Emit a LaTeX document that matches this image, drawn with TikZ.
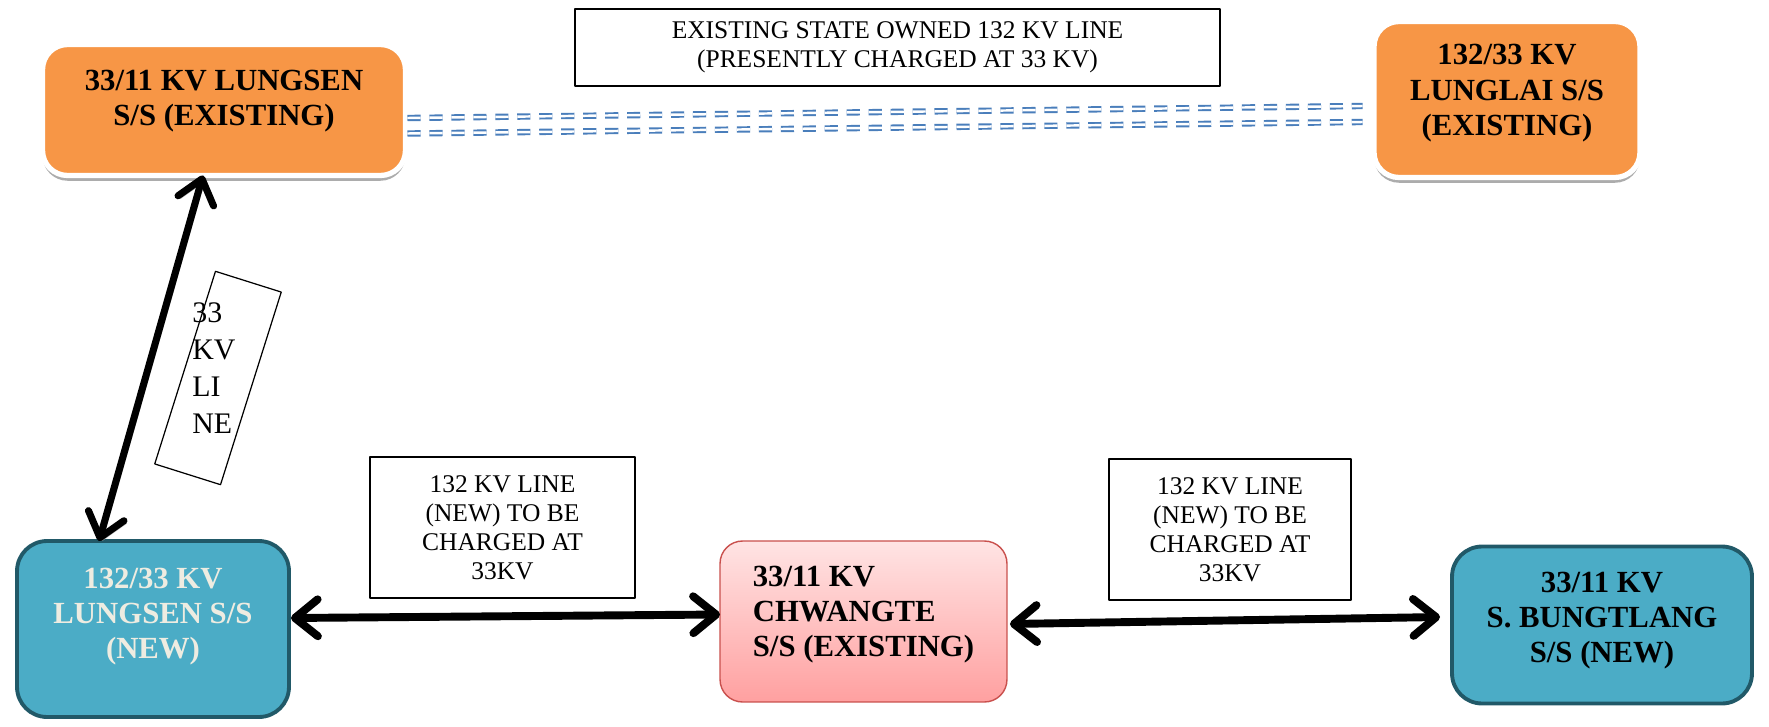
\documentclass[tikz,border=0pt]{standalone}
\usepackage{fontspec}
\setmainfont{Liberation Serif}
\usetikzlibrary{arrows.meta,calc,shadows}
\definecolor{orangess}{HTML}{F79646}
\definecolor{bluess}{HTML}{4BACC6}
\definecolor{blueedge}{HTML}{215968}
\definecolor{creamtext}{HTML}{EEECE1}
\definecolor{pinktop}{HTML}{FFE4E4}
\definecolor{pinkbottom}{HTML}{FFA0A0}
\definecolor{pinkedge}{HTML}{C9504D}
\definecolor{oldblue}{HTML}{4A7EBB}
\begin{document}
\begin{tikzpicture}[x=0.02cm,y=-0.02cm,line join=round,
	>={Straight Barb[length=13pt,width=21pt,round]},
	ss/.style={rounded corners=0.5cm,align=center,inner sep=0pt,outer sep=0pt,font=\fontsize{17.5}{20}\selectfont\bfseries},
	oldss/.style={ss,fill=orangess,draw=white,line width=3pt,drop shadow={opacity=1,fill=gray!65,shadow xshift=0pt,shadow yshift=-3pt}},
	newss/.style={ss,rounded corners=0.6cm,fill=bluess,draw=blueedge,line width=2.2pt},
	tag/.style={draw,line width=0.7pt,align=center,inner sep=0pt,font=\fontsize{14.5}{16.5}\selectfont},
	link/.style={<->,line width=4.5pt,line cap=round,preaction={draw=gray!60,transform canvas={xshift=1.5pt,yshift=-1.5pt}}},
	oldline/.style={draw=oldblue,line width=1.1pt,double=white,double distance=1.4pt,dash pattern=on 7.5pt off 5pt}]
	\useasboundingbox (0,0) rectangle (1769,727);
	% existing substations
	\node[oldss,minimum width=7.26cm,minimum height=2.62cm,text depth=13.5pt] (lungsenold) at (224,110) {33/11 KV LUNGSEN\\S/S (EXISTING)};
	\node[oldss,minimum width=5.32cm,minimum height=3.12cm,text depth=11pt] (lunglai) at (1507,99.5) {132/33 KV\\LUNGLAI S/S\\(EXISTING)};
	\node[tag,minimum width=12.9cm,minimum height=1.54cm] (oldtag) at (897.5,47.5) {EXISTING STATE OWNED 132 KV LINE\\(PRESENTLY CHARGED AT 33 KV)};
	\foreach \a/\b in {8/6.5,23.5/22.5}
	\draw[oldline] ($(lungsenold.east)+(2,\a)$)--($(lunglai.west)+(-11.5,\b)$);
	% new substations
	\node[newss,text=creamtext,minimum width=5.44cm,minimum height=3.52cm,text depth=18pt] (lungsennew) at (153,629) {132/33 KV\\LUNGSEN S/S\\(NEW)};
	\node[ss,rounded corners=0.45cm,align=left,top color=pinktop,bottom color=pinkbottom,draw=pinkedge,line width=0.8pt,minimum width=5.74cm,minimum height=3.22cm,text depth=12pt] (chwangte) at (863.5,621.5) {33/11 KV\\CHWANGTE\\S/S (EXISTING)};
	\node[newss,minimum width=6.0cm,minimum height=3.14cm,text depth=9pt] (bungtlang) at (1602,625) {33/11 KV\\S. BUNGTLANG\\S/S (NEW)};
	% line labels
	\node[draw,line width=0.7pt,rotate=-17.5,minimum width=1.38cm,minimum height=4.04cm] (linebox) at (218,378) {};
	\node[align=left,inner sep=0pt,font=\fontsize{17}{21}\selectfont] (linetxt) at (214,368) {33\\KV\\LI\\NE};
	\node[tag,minimum width=5.3cm,minimum height=2.82cm] (newtag) at (502.5,527.5) {132 KV LINE\\(NEW) TO BE\\CHARGED AT\\33KV};
	\node[tag,minimum width=4.84cm,minimum height=2.82cm] (newtagb) at (1230,529.5) {132 KV LINE\\(NEW) TO BE\\CHARGED AT\\33KV};
	% connectors
	\draw[link,line width=4pt] ($(lungsenold.south)+(-21,0)$)--($(lungsennew.north)+(-54,0)$);
	\draw[link] ($(lungsennew.east)+(2,-11)$)--($(chwangte.west)+(0,-7)$);
	\draw[link] ($(chwangte.east)+(3,2.5)$)--($(bungtlang.west)+(-12,-8)$);
\end{tikzpicture}
\end{document}
